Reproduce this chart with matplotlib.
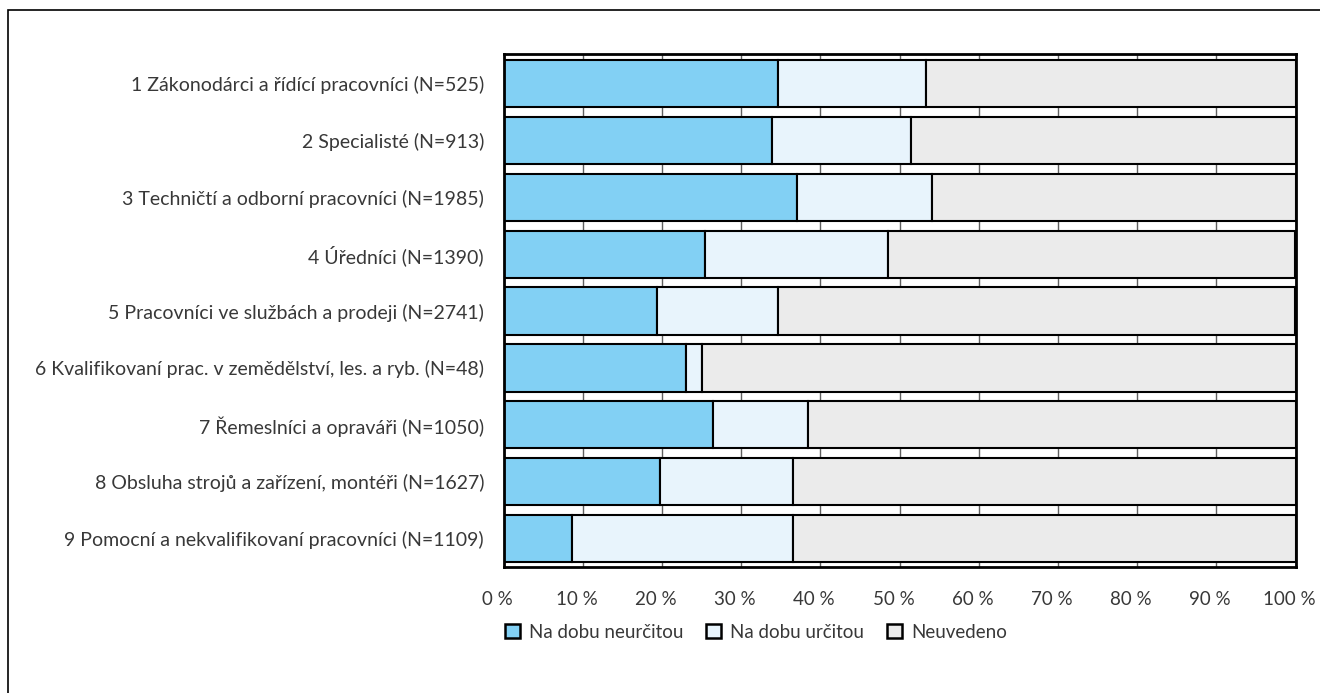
import matplotlib
matplotlib.use("Agg")
import matplotlib.pyplot as plt
import matplotlib.transforms as mtransforms
from matplotlib.patches import Rectangle, Patch
import numpy as np

categories = [
    "1 Zákonodárci a řídící pracovníci (N=525)",
    "2 Specialisté (N=913)",
    "3 Techničtí a odborní pracovníci (N=1985)",
    "4 Úředníci (N=1390)",
    "5 Pracovníci ve službách a prodeji (N=2741)",
    "6 Kvalifikovaní prac. v zemědělství, les. a ryb. (N=48)",
    "7 Řemeslníci a opraváři (N=1050)",
    "8 Obsluha strojů a zařízení, montéři (N=1627)",
    "9 Pomocní a nekvalifikovaní pracovníci (N=1109)",
]
neurcitou = [34.7, 33.9, 37.1, 25.4, 19.4, 23.0, 26.4, 19.8, 8.6]
urcitou = [18.6, 17.5, 17.0, 23.2, 15.2, 2.0, 12.0, 16.7, 28.0]
neuvedeno = [100 - a - b for a, b in zip(neurcitou, urcitou)]
series_names = ["Na dobu neurčitou", "Na dobu určitou", "Neuvedeno"]
colors = ["#82D0F4", "#E8F4FC", "#EBEBEB"]
xticks = list(range(0, 101, 10))
xticklabels = [f"{t} %" for t in xticks]

plt.rcParams['font.family'] = ['Lato', 'DejaVu Sans']
txtcol = "#383838"
fs = 14

W, H = 1320, 693
fig = plt.figure(figsize=(W / 100, H / 100), dpi=100)
ax = fig.add_axes([503.5 / W, 1 - 567 / H, 792 / W, (567 - 54) / H])

y = np.arange(len(categories))
left = np.zeros(len(categories))
for vals, col, name in zip([neurcitou, urcitou, neuvedeno], colors, series_names):
    ax.barh(y, vals, left=left, height=0.83, color=col, edgecolor="black",
            linewidth=1.5, label=name, zorder=3)
    left += np.array(vals)

ax.set_xlim(0, 100)
ax.set_ylim(len(categories) - 0.5, -0.52)
ax.tick_params(axis='both', length=0)
ax.tick_params(axis='y', pad=14)
ax.tick_params(axis='x', pad=17)
ax.set_yticks(y)
ax.set_yticklabels(categories, fontsize=fs, color=txtcol)
ax.set_xticks(xticks)
ax.set_xticklabels(xticklabels, fontsize=13.5, color=txtcol)
shift = mtransforms.ScaledTranslation(-6 / 100, 0, fig.dpi_scale_trans)
for lab in ax.xaxis.get_majorticklabels():
    lab.set_transform(lab.get_transform() + shift)
ax.grid(axis='x', color="#606060", linewidth=1.0, zorder=0)
for s in ax.spines.values():
    s.set_linewidth(2.0)
    s.set_color("black")
    s.set_zorder(5)

handles = [Patch(facecolor=c, edgecolor="black", linewidth=1.8) for c in colors]
fig.legend(handles, series_names, loc="center left",
           bbox_to_anchor=(488 / W, 1 - 632 / H), ncol=3, frameon=False,
           handlelength=0.8, handleheight=0.8, handletextpad=0.5,
           columnspacing=1.2, labelcolor=txtcol, prop={'size': 13.5})

fig.patches.append(Rectangle((8 / W, -0.1), 1.2, 1 - 10 / H + 0.1, transform=fig.transFigure,
                             fill=False, edgecolor="black", linewidth=1.2))

fig.savefig("out.png", dpi=100)
